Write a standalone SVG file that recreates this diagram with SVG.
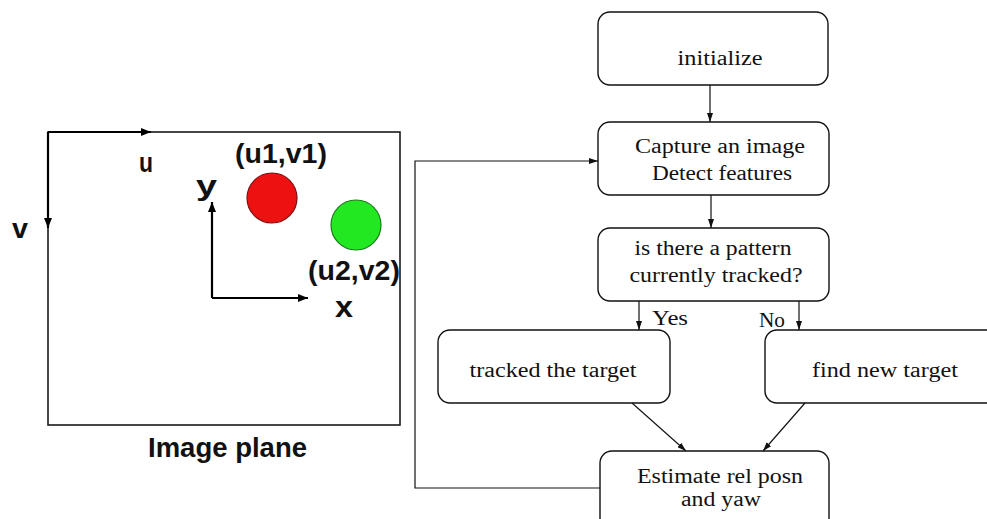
<svg xmlns="http://www.w3.org/2000/svg" width="987" height="519" viewBox="0 0 987 519">
  <style>
    .bg { fill: #ffffff; }
    .plane { fill: none; stroke: #1a1a1a; stroke-width: 1.6; }
    .axis { fill: none; stroke: #000; stroke-width: 2.2; }
    .lbl { font-family: "Liberation Sans", Arial, sans-serif; font-weight: bold; font-size: 27px; fill: #111; }
    .box { fill: #fff; stroke: #111; stroke-width: 1.4; }
    .txt { font-family: "Liberation Serif", "Times New Roman", serif; font-size: 20.5px; fill: #111; text-anchor: middle; }
    .tag { font-family: "Liberation Serif", "Times New Roman", serif; font-size: 20.5px; fill: #111; }
    .conn { fill: none; stroke: #111; stroke-width: 1.2; }
  </style>
  <defs>
    <marker id="bigHead" viewBox="0 0 10 8" refX="10" refY="4" markerWidth="10" markerHeight="8" markerUnits="userSpaceOnUse" orient="auto">
      <path d="M0,0 L10,4 L0,8 Z" fill="#000"/>
    </marker>
    <marker id="head" viewBox="0 0 9 6" refX="9" refY="3" markerWidth="9" markerHeight="6" markerUnits="userSpaceOnUse" orient="auto">
      <path d="M0,0 L9,3 L0,6 Z" fill="#111"/>
    </marker>
  </defs>

  <rect class="bg" x="0" y="0" width="987" height="519"/>

  <!-- Image plane with pixel axes u, v and camera axes x, y -->
  <g id="image-plane">
    <rect class="plane" x="48" y="132" width="352" height="293"/>
    <path class="axis" d="M48,132 H151" marker-end="url(#bigHead)"/>
    <path class="axis" d="M48,132 V228" marker-end="url(#bigHead)"/>
    <path class="axis" d="M212,298 V202" marker-end="url(#bigHead)"/>
    <path class="axis" d="M212,298 H308" marker-end="url(#bigHead)"/>
    <text class="lbl" x="139" y="172" textLength="14" lengthAdjust="spacingAndGlyphs">u</text>
    <text class="lbl" x="12" y="238" textLength="16" lengthAdjust="spacingAndGlyphs">v</text>
    <text class="lbl" x="196" y="195" textLength="21" lengthAdjust="spacingAndGlyphs">y</text>
    <text class="lbl" x="335" y="317" textLength="18" lengthAdjust="spacingAndGlyphs" style="font-size:30px">x</text>
    <circle cx="272" cy="198" r="25" fill="#ee1111" stroke="#7a1010" stroke-width="1.2"/>
    <circle cx="356" cy="225" r="25" fill="#22e822" stroke="#1a7a1a" stroke-width="1.2"/>
    <text class="lbl" x="235" y="163" textLength="92" lengthAdjust="spacingAndGlyphs">(u1,v1)</text>
    <text class="lbl" x="308" y="280" textLength="92" lengthAdjust="spacingAndGlyphs">(u2,v2)</text>
    <text class="lbl" x="148" y="457" textLength="159" lengthAdjust="spacingAndGlyphs">Image plane</text>
  </g>

  <!-- Tracking loop flowchart -->
  <g id="initialize">
    <rect class="box" x="598" y="12" width="230" height="73" rx="12"/>
    <text class="txt" x="720" y="65" textLength="85" lengthAdjust="spacingAndGlyphs">initialize</text>
  </g>
  <g id="capture">
    <rect class="box" x="598" y="122" width="231" height="73" rx="12"/>
    <text class="txt" x="720" y="153" textLength="170" lengthAdjust="spacingAndGlyphs">Capture an image</text>
    <text class="txt" x="722" y="180" textLength="140" lengthAdjust="spacingAndGlyphs">Detect features</text>
  </g>
  <g id="pattern-check">
    <rect class="box" x="598" y="228" width="231" height="73" rx="12"/>
    <text class="txt" x="713" y="255" textLength="157" lengthAdjust="spacingAndGlyphs">is there a pattern</text>
    <text class="txt" x="716" y="282" textLength="173" lengthAdjust="spacingAndGlyphs">currently tracked?</text>
  </g>
  <g id="track-target">
    <rect class="box" x="438" y="330" width="232" height="73" rx="12"/>
    <text class="txt" x="553" y="377" textLength="167" lengthAdjust="spacingAndGlyphs">tracked the target</text>
  </g>
  <g id="find-target">
    <rect class="box" x="765" y="330" width="240" height="73" rx="12"/>
    <text class="txt" x="885" y="377" textLength="146" lengthAdjust="spacingAndGlyphs">find new target</text>
  </g>
  <g id="estimate">
    <rect class="box" x="600" y="451" width="229" height="80" rx="12"/>
    <text class="txt" x="720" y="483" textLength="166" lengthAdjust="spacingAndGlyphs">Estimate rel posn</text>
    <text class="txt" x="721" y="506" textLength="80" lengthAdjust="spacingAndGlyphs">and yaw</text>
  </g>

  <g id="connectors">
    <path class="conn" d="M710,85 V122" marker-end="url(#head)"/>
    <path class="conn" d="M711,195 V228" marker-end="url(#head)"/>
    <path class="conn" d="M639,301 V330" marker-end="url(#head)"/>
    <path class="conn" d="M799,301 V330" marker-end="url(#head)"/>
    <path class="conn" d="M632,403 L686,451" marker-end="url(#head)"/>
    <path class="conn" d="M805,403 L763,451" marker-end="url(#head)"/>
    <path class="conn" d="M600,488 H415 V161 H598" marker-end="url(#head)"/>
    <text class="tag" x="652" y="325" textLength="36" lengthAdjust="spacingAndGlyphs">Yes</text>
    <text class="tag" x="759" y="327" textLength="26" lengthAdjust="spacingAndGlyphs">No</text>
  </g>
</svg>
